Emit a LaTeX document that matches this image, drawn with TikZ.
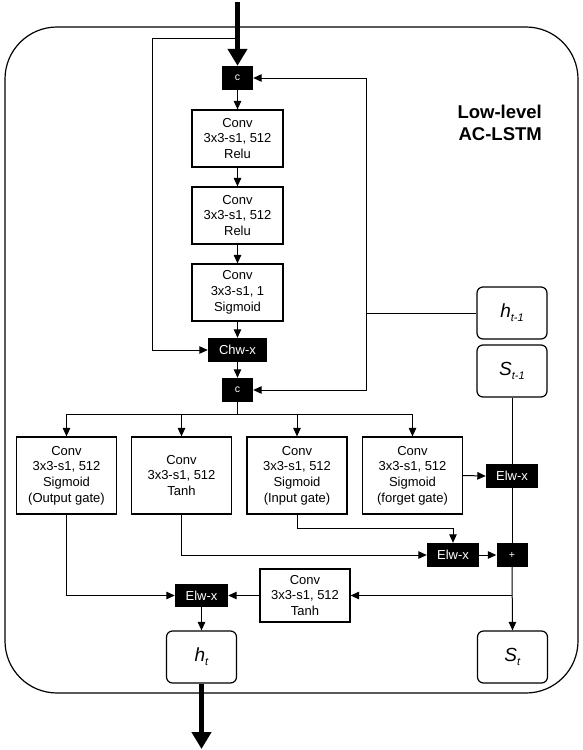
\documentclass[tikz,border=0pt]{standalone}
\usepackage{fontspec}
\setmainfont{Liberation Sans}
\usetikzlibrary{arrows.meta}
\newcommand{\stvar}[2]{\fontsize{19}{19}\selectfont\textit{#1}\raisebox{-4pt}{\fontsize{11}{11}\selectfont\textit{#2}}}
\begin{document}
\begin{tikzpicture}[x=1pt,y=-1pt,
 conv/.style={draw, line width=1.2pt, fill=white, align=center, inner sep=0pt, font=\fontsize{13}{15.7}\selectfont},
 blk/.style={fill=black, text=white, inner sep=0pt, font=\fontsize{13}{15}\selectfont},
 smallblk/.style={blk, minimum width=31pt, minimum height=24pt, font=\fontsize{10.5}{12}\selectfont},
 elw/.style={blk, minimum width=52pt, minimum height=24pt},
 state/.style={draw, line width=1.2pt, fill=white, rounded corners=6pt, inner sep=0pt, minimum width=70pt, minimum height=52pt},
 ln/.style={line width=1pt},
 arr/.style={ln, -{Triangle[length=8.5pt,width=7.5pt]}},
 bigarr/.style={line width=5pt, -{Triangle[length=17pt,width=19pt]}},
]
\useasboundingbox (0,0) rectangle (582,750);
% frame
\draw[line width=1.2pt, rounded corners=52pt] (5,27) rectangle (578,693);
\node[anchor=north east, align=right, inner sep=0pt, font=\bfseries\fontsize{18.5}{22}\selectfont] (title) at (542,105) {Low-level\\AC-LSTM};

% nodes
\node[smallblk] (c1) at (237.5,78) {c};
\node[conv, minimum width=91pt, minimum height=57pt] (cv1) at (237.5,138.5) {Conv\\3x3-s1, 512\\Relu};
\node[conv, minimum width=91pt, minimum height=57pt] (cv2) at (237.5,215.5) {Conv\\3x3-s1, 512\\Relu};
\node[conv, minimum width=91pt, minimum height=57pt] (cv3) at (237.5,292.5) {Conv\\3x3-s1, 1\\Sigmoid};
\node[blk, minimum width=59pt, minimum height=24pt] (chw) at (237.5,350) {Chw-x};
\node[smallblk] (c2) at (237.5,390) {c};

\node[conv, minimum width=100pt, minimum height=77pt] (og) at (66.5,475.5) {Conv\\3x3-s1, 512\\Sigmoid\\(Output gate)};
\node[conv, minimum width=100pt, minimum height=77pt] (tg) at (181.5,475.5) {Conv\\3x3-s1, 512\\Tanh};
\node[conv, minimum width=100pt, minimum height=77pt] (ig) at (297,475.5) {Conv\\3x3-s1, 512\\Sigmoid\\(Input gate)};
\node[conv, minimum width=100pt, minimum height=77pt] (fg) at (412.5,475.5) {Conv\\3x3-s1, 512\\Sigmoid\\(forget gate)};

\node[state] (hprev) at (512,313) {\stvar{h}{t-1}};
\node[state] (sprev) at (512,371) {\stvar{S}{t-1}};
\node[elw] (elwf) at (512,476) {Elw-x};
\node[elw] (elwm) at (453,555) {Elw-x};
\node[smallblk] (plus) at (512,555) {+};
\node[conv, minimum width=90pt, minimum height=53pt] (convt) at (305,595.5) {Conv\\3x3-s1, 512\\Tanh};
\node[elw, minimum width=53pt, minimum height=23pt] (elwo) at (201.5,595.5) {Elw-x};
\node[state] (ht) at (201.5,657) {\stvar{h}{t}};
\node[state] (st) at (512.5,657) {\stvar{S}{t}};

% input / output
\coordinate (in) at (237.5,2);
\coordinate (out) at (201.5,749);
\draw[bigarr] (in) -- (c1.north);
\draw[bigarr] (ht.south) -- (out);

% top-left skip
\coordinate (j1) at (237.5,38);
\coordinate (lft) at (152,38);
\draw[arr] (j1) -- (lft) |- (chw.west);

% vertical chain
\draw[arr] (c1) -- (cv1);
\draw[arr] (cv1) -- (cv2);
\draw[arr] (cv2) -- (cv3);
\draw[arr] (cv3) -- (chw);
\draw[arr] (chw) -- (c2);

% h_{t-1} feedback
\coordinate (hj) at (366,313);
\draw[ln] (hprev.west) -- (hj);
\draw[arr] (hj) |- (c1.east);
\draw[arr] (hj) |- (c2.east);

% branch to gates
\coordinate (br) at (237.5,414);
\draw[ln] (c2.south) -- (br);
\draw[ln] (og.north |- br) -- (fg.north |- br);
\draw[arr] (og.north |- br) -- (og.north);
\draw[arr] (tg.north |- br) -- (tg.north);
\draw[arr] (ig.north |- br) -- (ig.north);
\draw[arr] (fg.north |- br) -- (fg.north);

% cell path
\draw[arr] (fg.east) -- (elwf.west);
\draw[ln] (sprev.south) -- (elwf.north);
\draw[ln] (elwf.south) -- (plus.north);
\draw[arr] (ig.south) -- ++(0,14) -| (elwm.north);
\draw[arr] (tg.south) |- (elwm.west);
\draw[arr] (elwm.east) -- (plus.west);
\draw[arr] (plus.south) -- (st.north);
\coordinate (b2) at (plus.south |- convt.east);
\draw[arr] (b2) -- (convt.east);
\draw[arr] (convt.west) -- (elwo.east);
\draw[arr] (og.south) |- (elwo.west);
\draw[arr] (elwo.south) -- (ht.north);
\end{tikzpicture}
\end{document}
